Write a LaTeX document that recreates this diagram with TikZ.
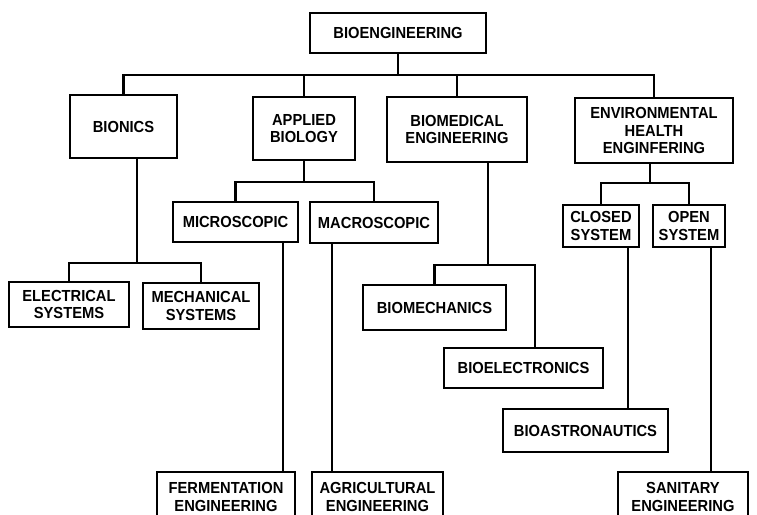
\documentclass[tikz,border=0pt]{standalone}
\usepackage{fontspec}
\setmainfont{Liberation Sans}
\newfontfamily\chartfont[FakeStretch=0.92]{Liberation Sans}
\usepackage{tikz}

\begin{document}
\begin{tikzpicture}[x=1pt, y=-1pt, line width=2.2pt,
  every node/.style={draw, line width=2.2pt, align=center, inner sep=0pt,
    font=\chartfont\bfseries\fontsize{16}{17.5}\selectfont}]
\useasboundingbox (0,0) rectangle (757,514);
\clip (0,0) rectangle (757,514);

\node[minimum width=176, minimum height=40] (bioeng)   at (398,33)    {BIOENGINEERING};
\node[minimum width=107, minimum height=63] (bionics)  at (123.5,126.5) {BIONICS};
\node[minimum width=102, minimum height=63] (applied)  at (304,128.5) {APPLIED\\BIOLOGY};
\node[minimum width=140, minimum height=65] (biomed)   at (457,129.5) {BIOMEDICAL\\ENGINEERING};
\node[minimum width=158, minimum height=65] (env)      at (654,130.5) {ENVIRONMENTAL\\HEALTH\\ENGINFERING};
\node[minimum width=125, minimum height=40] (micro)    at (235.5,222) {MICROSCOPIC};
\node[minimum width=128, minimum height=41] (macro)    at (374,222.5) {MACROSCOPIC};
\node[minimum width=76,  minimum height=42] (closed)   at (601,226)   {CLOSED\\SYSTEM};
\node[minimum width=72,  minimum height=42] (open)     at (689,226)   {OPEN\\SYSTEM};
\node[minimum width=120, minimum height=45] (elec)     at (69,304.5)  {ELECTRICAL\\SYSTEMS};
\node[minimum width=116, minimum height=46] (mech)     at (201,306)   {MECHANICAL\\SYSTEMS};
\node[minimum width=143, minimum height=45] (biomech)  at (434.5,307.5) {BIOMECHANICS};
\node[minimum width=159, minimum height=40] (bioelec)  at (523.5,368) {BIOELECTRONICS};
\node[minimum width=165, minimum height=43] (bioastro) at (585.5,430.5) {BIOASTRONAUTICS};
\node[minimum width=138, minimum height=50] (ferm)     at (226,497)   {FERMENTATION\\ENGINEERING};
\node[minimum width=131, minimum height=50] (agri)     at (377.5,497) {AGRICULTURAL\\ENGINEERING};
\node[minimum width=130, minimum height=50] (sanit)    at (683,497)   {SANITARY\\ENGINEERING};

\coordinate (topbus) at (398,75);
\coordinate (bionbus) at (137,263);
\coordinate (applbus) at (304,182);
\coordinate (medbus) at (488,265);
\coordinate (medbusr) at (535,265);
\coordinate (envbus) at (650,183);

\draw (bioeng) -- (topbus);
\draw (bionics.north) |- (topbus) -| (env.north);
\draw (applied.north) -- (applied.north |- topbus);
\draw (biomed.north) -- (biomed.north |- topbus);

\draw (bionics.south -| bionbus) -- (bionbus);
\draw (elec.north) |- (bionbus) -| (mech.north);

\draw (applied) -- (applbus);
\draw (micro.north) |- (applbus) -| (macro.north);

\draw (biomed.south -| medbus) -- (medbus);
\draw (biomech.north) |- (medbusr) -- (medbusr |- bioelec.north);

\draw (env.south -| envbus) -- (envbus);
\draw (closed.north) |- (envbus) -| (open.north);

\draw ([xshift=-16]micro.south east) -- ([xshift=-16]micro.south east |- ferm.north);
\draw ([xshift=23]macro.south west) -- ([xshift=23]macro.south west |- agri.north);
\draw ([xshift=-12]closed.south east) -- ([xshift=-12]closed.south east |- bioastro.north);
\draw ([xshift=-15]open.south east) -- ([xshift=-15]open.south east |- sanit.north);
\end{tikzpicture}
\end{document}
